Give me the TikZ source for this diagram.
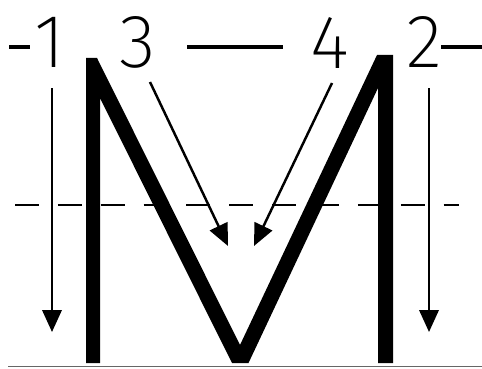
\documentclass[tikz,border=0pt]{standalone}
\usepackage{fontspec}
\newfontfamily\digitfont{Fira Sans}[UprightFont=* ExtraLight]
\usetikzlibrary{arrows.meta}
\tikzset{
  digit/.style={inner sep=0pt, anchor=base, font=\digitfont\fontsize{43}{43}\selectfont},
  guidebar/.style={line width=2.4pt},
  strokearrow/.style={line width=1.4pt, -{Triangle[width=11pt,length=12.5pt]}},
  midline/.style={line width=1.2pt, dash pattern=on 13.6pt off 10.8pt},
  baseline/.style={line width=1.1pt, black!60}
}
\begin{document}
\begin{tikzpicture}[x=0.02cm,y=-0.02cm]
\useasboundingbox (0,0) rectangle (482,368);
% labels
\node[digit] (n1) at (50,68) {1};
\node[digit] (n3) at (137.5,68) {3};
\node[digit] (n4) at (329.5,69) {4};
\node[digit] (n2) at (424,68) {2};
% guide bars
\coordinate (b1a) at (9,47);   \coordinate (b1b) at (30,47);
\coordinate (b2a) at (187,47); \coordinate (b2b) at (283,47);
\coordinate (b3a) at (441,47); \coordinate (b3b) at (482,47);
\draw[guidebar] (b1a) -- (b1b);
\draw[guidebar] (b2a) -- (b2b);
\draw[guidebar] (b3a) -- (b3b);
% dashed midline
\coordinate (m1) at (15,205); \coordinate (m2) at (459,205);
\draw[midline] (m1) -- (m2);
% baseline
\coordinate (g1) at (8,366.5); \coordinate (g2) at (482,366.5);
\draw[baseline] (g1) -- (g2);
% letter M
\fill[black] (86,58) -- (97,58) -- (240,345) -- (377,55) -- (393,55) -- (393,363)
  -- (378,363) -- (378,88) -- (248.5,363) -- (232,363) -- (100,98) -- (100,363)
  -- (86,363) -- cycle;
% stroke arrows
\coordinate (a1s) at (52,88);   \coordinate (a1e) at (52,332);
\coordinate (a2s) at (429,88);  \coordinate (a2e) at (429,332);
\coordinate (a3s) at (150,82);  \coordinate (a3e) at (228,246);
\coordinate (a4s) at (332,83);  \coordinate (a4e) at (254,246);
\draw[strokearrow] (a1s) -- (a1e);
\draw[strokearrow] (a2s) -- (a2e);
\draw[strokearrow] (a3s) -- (a3e);
\draw[strokearrow] (a4s) -- (a4e);
\end{tikzpicture}
\end{document}
